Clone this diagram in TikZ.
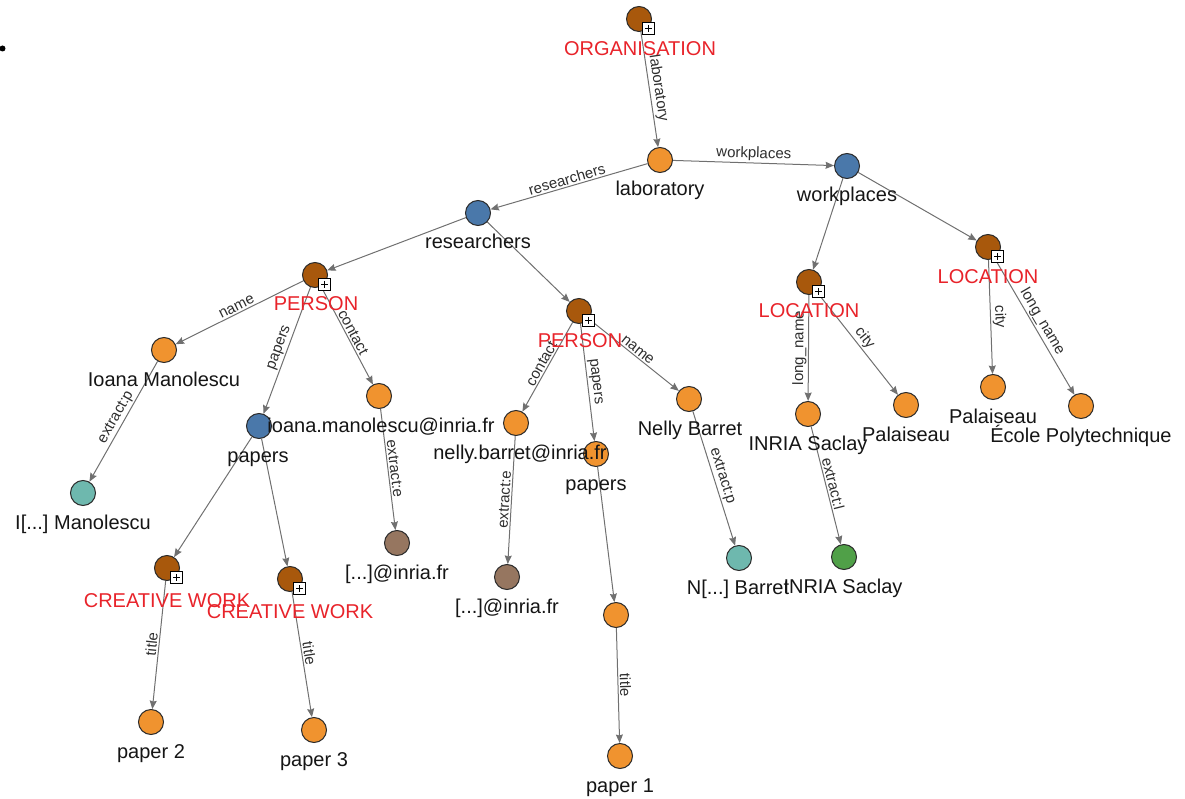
\documentclass[tikz,border=0pt]{standalone}
\usepackage{fontspec}
\setmainfont{Liberation Sans}
\usetikzlibrary{arrows.meta,backgrounds}
\definecolor{orangeN}{HTML}{F0932F}
\definecolor{brownN}{HTML}{A8580C}
\definecolor{blueN}{HTML}{4A78AA}
\definecolor{tealN}{HTML}{6EB8AE}
\definecolor{grayN}{HTML}{967660}
\definecolor{greenN}{HTML}{50A048}
\definecolor{borderN}{HTML}{2B2B2B}
\definecolor{edgeC}{HTML}{707070}
\definecolor{elabC}{HTML}{2E2E2E}
\definecolor{textC}{HTML}{151515}
\definecolor{redT}{HTML}{E8232A}
\frenchspacing
\tikzset{
  nd/.style={circle, draw=borderN, line width=1pt, minimum size=25pt, inner sep=0pt},
  lit/.style={nd, fill=orangeN},
  col/.style={nd, fill=blueN},
  ent/.style={nd, fill=brownN},
  tl/.style={nd, fill=tealN},
  gb/.style={nd, fill=grayN},
  gn/.style={nd, fill=greenN},
  lbl/.style={font=\fontsize{20}{24}\selectfont, text=textC, inner sep=0pt, anchor=base},
  rlbl/.style={lbl, text=redT},
  plus/.style={draw=black, fill=white, line width=0.8pt, minimum size=12pt, inner sep=0pt,
    path picture={\draw[line width=0.9pt]
      ([xshift=2.5pt]path picture bounding box.west) -- ([xshift=-2.5pt]path picture bounding box.east)
      ([yshift=-2.5pt]path picture bounding box.north) -- ([yshift=2.5pt]path picture bounding box.south);}},
  edge/.style={draw=edgeC, line width=1pt, -{Stealth[length=8.5pt,width=7pt,inset=1pt]}},
  elab/.style={font=\fontsize{15}{18}\selectfont, text=elabC, sloped, above, inner sep=1.5pt, midway},
}
\begin{document}
\begin{tikzpicture}[x=1pt,y=-1pt]
\useasboundingbox (0,0) rectangle (1185,799);
\fill[black] (2.5,48.5) circle (3pt);
% nodes
\node[ent] (org) at (639,19) {};
\node[lit] (lab) at (660,160) {};
\node[col] (wp) at (847,166) {};
\node[col] (res) at (478,213) {};
\node[ent] (p1) at (315,275) {};
\node[ent] (p2) at (579,311) {};
\node[ent] (l1) at (809,282) {};
\node[ent] (l2) at (988,247) {};
\node[lit] (ioana) at (164,350) {};
\node[col] (pap1) at (259,426) {};
\node[lit] (em1) at (379,396) {};
\node[tl] (t1) at (83,493) {};
\node[gb] (b1) at (397,543) {};
\node[ent] (cw1) at (167,568) {};
\node[ent] (cw2) at (290,579) {};
\node[lit] (pp2) at (151,722) {};
\node[lit] (pp3) at (314,730) {};
\node[lit] (em2) at (516,423) {};
\node[lit] (pap2) at (596,454) {};
\node[lit] (nel) at (689,399) {};
\node[gb] (b2) at (507,577) {};
\node[lit] (pm) at (616,615) {};
\node[lit] (pp1) at (620,756) {};
\node[tl] (tn) at (739,558) {};
\node[gn] (gr) at (844,557) {};
\node[lit] (inr) at (808,414) {};
\node[lit] (pal1) at (906,405) {};
\node[lit] (pal2) at (993,387) {};
\node[lit] (eco) at (1081,406) {};
% plus boxes
\node[plus] (org-p) at (648.5,28.5) {};
\node[plus] (p1-p) at (324.5,284.5) {};
\node[plus] (p2-p) at (588.5,320.5) {};
\node[plus] (l1-p) at (818.5,291.5) {};
\node[plus] (l2-p) at (997.5,256.5) {};
\node[plus] (cw1-p) at (176.5,577.5) {};
\node[plus] (cw2-p) at (299.5,588.5) {};
% edges
\begin{scope}[on background layer]
\draw[edge] (org) -- node[elab]{laboratory} (lab);
\draw[edge] (lab) -- node[elab]{workplaces} (wp);
\draw[edge] (lab) -- node[elab]{researchers} (res);
\draw[edge] (res) -- (p1);
\draw[edge] (res) -- (p2);
\draw[edge] (wp) -- (l1);
\draw[edge] (wp) -- (l2);
\draw[edge] (p1) -- node[elab]{name} (ioana);
\draw[edge] (p1) -- node[elab]{papers} (pap1);
\draw[edge] (p1) -- node[elab]{contact} (em1);
\draw[edge] (ioana) -- node[elab]{extract:p} (t1);
\draw[edge] (em1) -- node[elab]{extract:e} (b1);
\draw[edge] (pap1) -- (cw1);
\draw[edge] (pap1) -- (cw2);
\draw[edge] (cw1) -- node[elab]{title} (pp2);
\draw[edge] (cw2) -- node[elab]{title} (pp3);
\draw[edge] (p2) -- node[elab]{contact} (em2);
\draw[edge] (p2) -- node[elab]{papers} (pap2);
\draw[edge] (p2) -- node[elab]{name} (nel);
\draw[edge] (em2) -- node[elab]{extract:e} (b2);
\draw[edge] (pap2) -- (pm);
\draw[edge] (pm) -- node[elab]{title} (pp1);
\draw[edge] (nel) -- node[elab]{extract:p} (tn);
\draw[edge] (l1) -- node[elab]{long\_name} (inr);
\draw[edge] (l1) -- node[elab]{city} (pal1);
\draw[edge] (inr) -- node[elab]{extract:l} (gr);
\draw[edge] (l2) -- node[elab]{city} (pal2);
\draw[edge] (l2) -- node[elab]{long\_name} (eco);
\end{scope}
% labels
\node[rlbl] (org-t) at (640,56) {ORGANISATION};
\node[lbl] (lab-t) at (660,196) {laboratory};
\node[lbl] (wp-t) at (847,202) {workplaces};
\node[lbl] (res-t) at (478,249) {researchers};
\node[rlbl] (p1-t) at (316,311) {PERSON};
\node[rlbl] (p2-t) at (580,347) {PERSON};
\node[rlbl] (l1-t) at (809,318) {LOCATION};
\node[rlbl] (l2-t) at (988,284) {LOCATION};
\node[lbl] (ioana-t) at (164,386) {Ioana Manolescu};
\node[lbl] (pap1-t) at (258,462) {papers};
\node[lbl] (em1-t) at (381,432) {ioana.manolescu@inria.fr};
\node[lbl] (t1-t) at (83,529) {I[...] Manolescu};
\node[lbl] (b1-t) at (397,579) {[...]@inria.fr};
\node[rlbl] (cw1-t) at (167,607) {CREATIVE WORK};
\node[rlbl] (cw2-t) at (290,618) {CREATIVE WORK};
\node[lbl] (pp2-t) at (151,758) {paper 2};
\node[lbl] (pp3-t) at (314,766) {paper 3};
\node[lbl] (em2-t) at (520,459) {nelly.barret@inria.fr};
\node[lbl] (pap2-t) at (596,490) {papers};
\node[lbl] (nel-t) at (690,435) {Nelly Barret};
\node[lbl] (b2-t) at (507,613) {[...]@inria.fr};
\node[lbl] (pp1-t) at (620,792) {paper 1};
\node[lbl] (tn-t) at (738,594) {N[...] Barret};
\node[lbl] (gr-t) at (843,593) {INRIA Saclay};
\node[lbl] (inr-t) at (808,450) {INRIA Saclay};
\node[lbl] (pal1-t) at (906,441) {Palaiseau};
\node[lbl] (pal2-t) at (993,423) {Palaiseau};
\node[lbl] (eco-t) at (1081,442) {École Polytechnique};
\end{tikzpicture}
\end{document}
